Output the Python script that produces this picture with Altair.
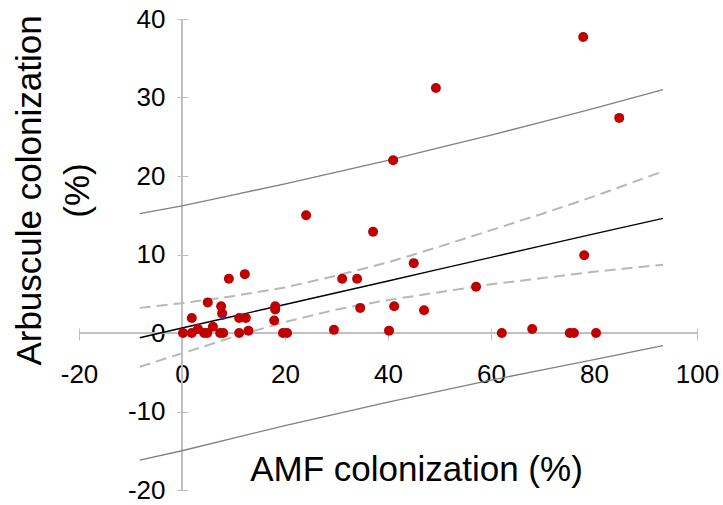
import altair as alt
import pandas as pd

amf = [77.9, 49.3, 84.9, 41.0, 24.1, 37.1, 78.1, 45.0, 12.2, 9.1, 31.1, 34.0,
       57.1, 5.0, 7.6, 18.1, 34.6, 41.2, 18.1, 47.0, 7.8, 1.9, 11.1, 12.4,
       17.9, 6.0, 3.1, 12.9, 29.5, 40.2, 68.0,
       0.2, 1.9, 4.3, 4.9, 7.4, 8.0, 11.1, 19.6, 20.4, 62.1, 75.3, 76.1, 80.4]
arb = [37.7, 31.2, 27.4, 22.0, 15.0, 12.9, 9.9, 8.9, 7.5, 6.9, 6.9, 6.9,
       5.9, 3.9, 3.4, 3.4, 3.2, 3.4, 3.0, 2.9, 2.5, 1.9, 1.9, 1.9,
       1.6, 0.8, 0.5, 0.3, 0.4, 0.3, 0.5,
       0, 0, 0, 0, 0, 0, 0, 0, 0, 0, 0, 0, 0]

mean_x = [8.0]
mean_y = [1.9]

# ---- regression line and bands ----
line_x = [-8.2, 0, 10, 20, 30, 40, 50, 60, 70, 80, 93.4]
fit_y = [-0.6, 0.63, 2.13, 3.63, 5.13, 6.63, 8.13, 9.63, 11.13, 12.63, 14.6]
ci_upper = [3.2, 3.8, 4.7, 5.8, 7.3, 9.0, 11.0, 13.1, 15.2, 17.4, 20.6]
ci_lower = [-4.3, -2.6, -0.5, 1.4, 3.0, 4.2, 5.2, 6.2, 7.0, 7.8, 8.7]
pi_upper = [15.2, 16.2, 17.6, 19.0, 20.5, 22.0, 23.6, 25.2, 26.9, 28.6, 31.0]
pi_lower = [-16.2, -15.0, -13.4, -11.8, -10.3, -8.8, -7.4, -6.0, -4.7, -3.4, -1.6]

x_ticks = [-20, 0, 20, 40, 60, 80, 100]
y_ticks = [-20, -10, 0, 10, 20, 30, 40]

FONT = "Liberation Sans, Arial, sans-serif"
AXIS_GREY = "#bfbfbf"

pts = pd.DataFrame({"x": amf, "y": arb})
mean_df = pd.DataFrame({"x": mean_x, "y": mean_y})
fit_df = pd.DataFrame({"x": line_x, "y": fit_y})
ci_df = pd.concat([
    pd.DataFrame({"x": line_x, "y": ci_upper, "s": "upper"}),
    pd.DataFrame({"x": line_x, "y": ci_lower, "s": "lower"}),
])
pi_df = pd.concat([
    pd.DataFrame({"x": line_x, "y": pi_upper, "s": "upper"}),
    pd.DataFrame({"x": line_x, "y": pi_lower, "s": "lower"}),
])

xscale = alt.Scale(domain=[-20, 100], nice=False, zero=False)
yscale = alt.Scale(domain=[-20, 40], nice=False, zero=False)

xaxis = alt.Axis(
    values=x_ticks, domain=False, grid=False, offset=-162,
    tickSize=12, tickColor=AXIS_GREY, tickWidth=1,
    labelFont=FONT, labelFontSize=26, labelColor="black", labelPadding=21,
    labelFlush=False, labelOverlap=False, labelExpr="datum.value + ''",
    title="AMF colonization (%)", titleFont=FONT, titleFontSize=35,
    titleFontWeight="normal", titleColor="black",
    titleX=337, titleY=152, titleAlign="center", titleBaseline="alphabetic",
)
yaxis = alt.Axis(
    values=y_ticks, domain=False, grid=False, offset=-109,
    tickSize=11, tickColor=AXIS_GREY, tickWidth=1,
    labelFont=FONT, labelFontSize=26, labelColor="black", labelPadding=12,
    labelFlush=False, labelOverlap=False, labelExpr="datum.value + ''",
    title=["Arbuscule colonization", "(%)"], titleFont=FONT, titleFontSize=35,
    titleFontWeight="normal", titleColor="black", titleAngle=270,
    titleX=-159, titleY=171, titleAlign="center", titleBaseline="middle",
    titleLineHeight=48,
)

X = alt.X("x:Q", scale=xscale, axis=xaxis)
Y = alt.Y("y:Q", scale=yscale, axis=yaxis)

x_axis_line = alt.Chart(pts).mark_rule(color=AXIS_GREY, strokeWidth=1.2).encode(
    x=alt.datum(-20, scale=xscale), x2=alt.datum(100), y=alt.datum(0, scale=yscale)
)
y_axis_line = alt.Chart(pts).mark_rule(color=AXIS_GREY, strokeWidth=1.2).encode(
    x=alt.datum(0, scale=xscale), y=alt.datum(-20, scale=yscale), y2=alt.datum(40)
)

pi_lines = alt.Chart(pi_df).mark_line(color="#808080", strokeWidth=1.3).encode(
    x=X, y=Y, detail="s:N"
)
ci_lines = alt.Chart(ci_df).mark_line(
    color="#b8b8b8", strokeWidth=2, strokeDash=[11, 6]
).encode(x=X, y=Y, detail="s:N")
fit_line = alt.Chart(fit_df).mark_line(color="black", strokeWidth=1.4).encode(x=X, y=Y)

points = alt.Chart(pts).mark_circle(color="#c00000", size=100, opacity=1).encode(x=X, y=Y)
mean_pt = alt.Chart(mean_df).mark_circle(color="#3030d0", size=14, opacity=1).encode(x=X, y=Y)

chart = alt.layer(
    x_axis_line, y_axis_line, pi_lines, ci_lines, fit_line, points, mean_pt
).properties(
    width=618, height=471,
    autosize=alt.AutoSizeParams(type="none"),
    padding={"left": 79, "top": 19, "right": 26, "bottom": 15},
    background="white",
).configure_view(stroke=None)

chart.save("out.html", embed_options={"renderer": "svg", "actions": False})
